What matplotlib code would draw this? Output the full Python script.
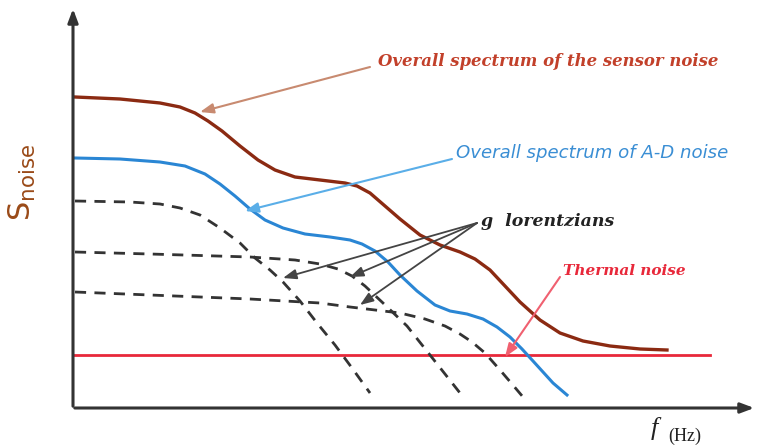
import matplotlib.pyplot as plt

# coordinates (pixel units, y grows downward)
sensor_x = [75, 120, 160, 180, 195, 208, 222, 240, 258, 275, 295, 320, 345, 357, 370, 385, 400, 420, 440, 460, 475, 490, 505, 520, 540, 560, 583, 610, 640, 667]
sensor_y = [97, 99, 103, 107, 113, 121, 131, 146, 160, 170, 177, 180, 183, 186, 193, 206, 219, 235, 245, 252, 259, 270, 286, 302, 320, 333, 341, 346, 349, 350]

ad_x = [75, 120, 160, 185, 205, 220, 235, 250, 265, 283, 305, 330, 350, 362, 375, 388, 400, 417, 435, 450, 467, 483, 497, 510, 522, 533, 543, 553, 567]
ad_y = [158, 159, 162, 166, 174, 184, 196, 209, 220, 228, 234, 237, 240, 244, 251, 262, 275, 291, 305, 311, 314, 319, 327, 337, 349, 361, 372, 383, 395]

lor1_x = [75, 130, 160, 180, 200, 220, 240, 255, 270, 283, 300, 317, 335, 352, 370]
lor1_y = [201, 202, 204, 208, 215, 228, 243, 258, 270, 282, 301, 323, 345, 368, 393]

lor2_x = [75, 150, 250, 295, 320, 338, 352, 365, 383, 407, 430, 445, 460]
lor2_y = [252, 254, 257, 260, 264, 269, 276, 286, 303, 326, 355, 374, 393]

lor3_x = [75, 150, 250, 320, 350, 375, 400, 425, 445, 460, 472, 485, 500, 512, 523]
lor3_y = [292, 295, 299, 303, 307, 310, 313, 319, 326, 334, 342, 353, 370, 384, 397]

thermal_x = [73, 710]
thermal_y = [355, 355]

lor_tips = [(283, 278), (350, 277), (360, 305)]

fig = plt.figure(figsize=(7.7, 4.47), dpi=100)
ax = fig.add_axes([0, 0, 1, 1])
ax.set_xlim(0, 770)
ax.set_ylim(447, 0)
ax.axis('off')

# axes with arrows
ax.annotate('', xy=(73, 6), xytext=(73, 409),
            arrowprops=dict(arrowstyle='-|>,head_width=0.3,head_length=0.8', color='#333333', lw=2.2))
ax.annotate('', xy=(757, 408), xytext=(72, 408),
            arrowprops=dict(arrowstyle='-|>,head_width=0.3,head_length=0.8', color='#333333', lw=2.2))

ax.plot(thermal_x, thermal_y, color='#e8283a', lw=2)
ax.plot(lor1_x, lor1_y, color='#333333', lw=2, ls=(0, (4, 3)))
ax.plot(lor2_x, lor2_y, color='#333333', lw=2, ls=(0, (4, 3)))
ax.plot(lor3_x, lor3_y, color='#333333', lw=2, ls=(0, (4, 3)))
ax.plot(ad_x, ad_y, color='#2a86d4', lw=2.2, solid_joinstyle='round')
ax.plot(sensor_x, sensor_y, color='#8b2a12', lw=2.4, solid_joinstyle='round')

# labels and arrows
ax.text(378, 62, 'Overall spectrum of the sensor noise', color='#c2402a', fontsize=11.9,
        family='DejaVu Serif', style='italic', weight='bold', va='center')
ax.annotate('', xy=(200, 112), xytext=(370, 67),
            arrowprops=dict(arrowstyle='-|>,head_width=0.3,head_length=0.8', color='#c88a70',
                            lw=1.5, shrinkA=0, shrinkB=0))

ax.text(456, 153, 'Overall spectrum of A-D noise', color='#3a8ed4', fontsize=13.1,
        family='DejaVu Sans', style='italic', va='center')
ax.annotate('', xy=(245, 211), xytext=(452, 159),
            arrowprops=dict(arrowstyle='-|>,head_width=0.3,head_length=0.8', color='#5aaee8',
                            lw=1.5, shrinkA=0, shrinkB=0))

ax.text(481, 221, 'g  lorentzians', color='#222222', fontsize=12.5,
        family='DejaVu Serif', style='italic', weight='bold', va='center')
for tip in lor_tips:
    ax.annotate('', xy=tip, xytext=(477, 223),
                arrowprops=dict(arrowstyle='-|>,head_width=0.3,head_length=0.8', color='#444444',
                                lw=1.3, shrinkA=0, shrinkB=0))

ax.text(563, 271, 'Thermal noise', color='#e8283a', fontsize=11,
        family='DejaVu Serif', style='italic', weight='bold', va='center')
ax.annotate('', xy=(505, 357), xytext=(560, 277),
            arrowprops=dict(arrowstyle='-|>,head_width=0.3,head_length=0.8', color='#f06070',
                            lw=1.5, shrinkA=0, shrinkB=0))

ax.text(22, 182, r'$\mathsf{S}_{\mathsf{noise}}$', color='#9a4a18', fontsize=22,
        rotation=90, ha='center', va='center')
ax.text(654, 428, 'f', color='#222222', fontsize=19, family='Liberation Serif',
        style='italic', ha='center', va='center')
ax.text(668, 436, '(Hz)', color='#222222', fontsize=13, family='Liberation Serif', va='center')

fig.savefig('out.png', dpi=100)
